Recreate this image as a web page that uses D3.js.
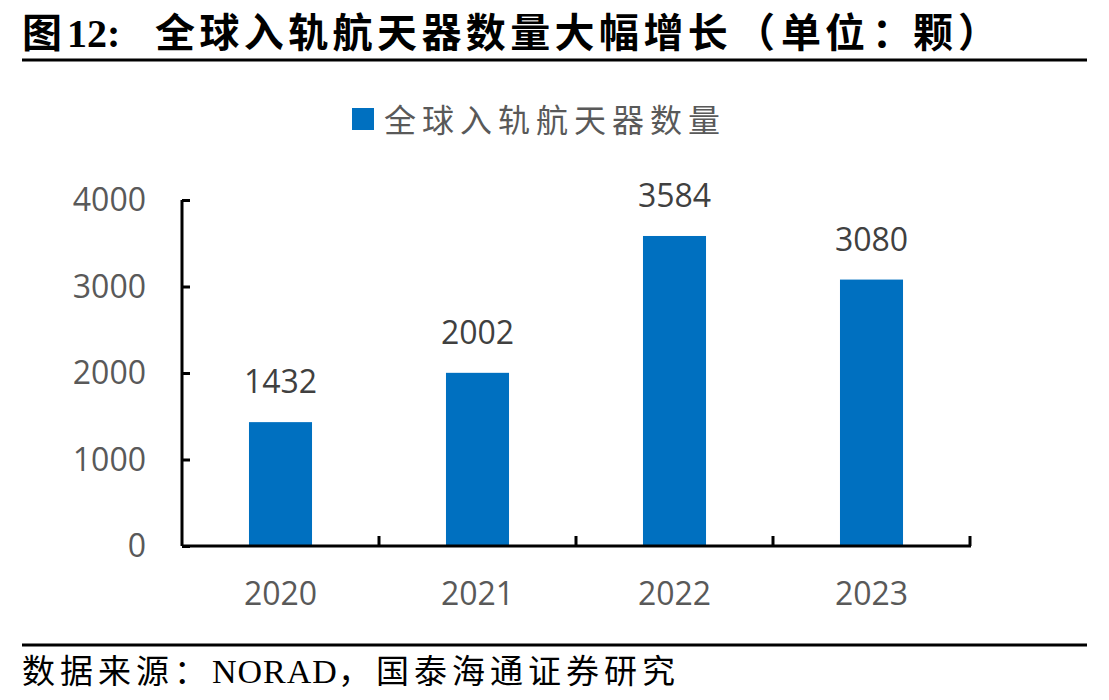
<!DOCTYPE html>
<html>
<head>
<meta charset="utf-8">
<script src="https://cdn.jsdelivr.net/npm/d3@7/dist/d3.min.js"></script>
<style>
    body{ margin:0; background:#fff; }
</style>
</head>
<body>
<div id="chart"></div>
<script>
    var years = ["2020","2021","2022","2023"]
    var counts = [1432,2002,3584,3080]
    var yTicks = [0,1000,2000,3000,4000]
    var seriesName = "全球入轨航天器数量"

    var W = 1109, H = 700
    var cjk = "'Noto Sans CJK SC','Noto Sans',sans-serif"
    var num = "'Open Sans','Noto Sans',sans-serif"
    var svg = d3.select("#chart").append("svg")
        .attr("width",W).attr("height",H)

    // title as one text with positioned pieces
    var titleParts = [
        {t:"图", x:22, f:cjk, ls:0},
        {t:"12:", x:67, f:"'Liberation Serif',serif", ls:0},
        {t:"全球入轨航天器数量大幅增长", x:155, f:cjk, ls:4.4},
        {t:"（", x:735, f:cjk, ls:0},
        {t:"单位", x:781, f:cjk, ls:4},
        {t:"：", x:872, f:cjk, ls:0},
        {t:"颗", x:913, f:cjk, ls:0},
        {t:"）", x:958, f:cjk, ls:0}
    ]
    var title = svg.append("text").attr("y",47)
        .attr("font-weight",700).attr("font-size",40).attr("fill","#000")
    title.selectAll("tspan").data(titleParts).enter().append("tspan")
        .attr("x",function(d){return d.x})
        .attr("font-family",function(d){return d.f})
        .attr("letter-spacing",function(d){return d.ls})
        .text(function(d){return d.t})

    svg.append("line").attr("x1",22).attr("x2",1087).attr("y1",60).attr("y2",60)
        .attr("stroke","#000").attr("stroke-width",3)
    svg.append("line").attr("x1",22).attr("x2",1087).attr("y1",645).attr("y2",645)
        .attr("stroke","#000").attr("stroke-width",3)

    var foot = svg.append("text").attr("x",22).attr("y",683)
        .attr("font-family",cjk).attr("font-size",33).attr("letter-spacing",5).attr("fill","#000")
    foot.append("tspan").text("数据来源：")
    foot.append("tspan").attr("font-family","'Liberation Serif',serif").attr("font-size",34)
        .attr("letter-spacing",1).text("NORAD")
    foot.append("tspan").text("，国泰海通证券研究")

    // legend
    svg.append("rect").attr("x",352).attr("y",108).attr("width",22).attr("height",22)
        .attr("fill","#0070C0")
    svg.append("text").attr("x",384).attr("y",132)
        .attr("font-family",cjk).attr("font-size",32).attr("letter-spacing",6)
        .attr("fill","#595959")
        .text(seriesName)

    // scales
    var x = d3.scaleBand().domain(years).range([182,970]).paddingInner(0.68).paddingOuter(0.34)
    var y = d3.scaleLinear().domain([0,4000]).range([546,200])

    var g = svg.append("g")

    g.selectAll(".bar").data(counts).enter().append("rect")
        .attr("x",function(d,i){return x(years[i])})
        .attr("y",function(d){return y(d)})
        .attr("width",x.bandwidth())
        .attr("height",function(d){return y(0)-y(d)})
        .attr("fill","#0070C0")

    g.selectAll(".val").data(counts).enter().append("text")
        .attr("x",function(d,i){return x(years[i])+x.bandwidth()/2})
        .attr("y",function(d){return y(d)-29})
        .attr("text-anchor","middle")
        .attr("font-family",num).attr("font-size",32)
        .attr("fill","#404040")
        .text(function(d){return d})

    // y axis
    var yAxis = g.append("g").attr("transform","translate(182,0)")
        .call(d3.axisRight(y).tickValues(yTicks).tickSize(8).tickFormat(""))
    yAxis.select(".domain").attr("stroke","#000").attr("stroke-width",3)
        .attr("d","M0,"+y(4000)+"V"+y(0))
    yAxis.selectAll(".tick line").attr("stroke","#000").attr("stroke-width",3)

    g.selectAll(".ylab").data(yTicks).enter().append("text")
        .attr("x",146).attr("y",function(d){return y(d)+11})
        .attr("text-anchor","end")
        .attr("font-family",num).attr("font-size",32)
        .attr("fill","#595959")
        .text(function(d){return d})

    // x axis, ticks between categories pointing up
    var bounds = years.map(function(d){return x(d)-x.step()*x.paddingInner()/2+x.step()})
    g.append("line").attr("x1",182).attr("x2",971).attr("y1",546).attr("y2",546)
        .attr("stroke","#000").attr("stroke-width",3)
    g.selectAll(".xtick").data(bounds).enter().append("line")
        .attr("x1",function(d){return d}).attr("x2",function(d){return d})
        .attr("y1",546).attr("y2",536)
        .attr("stroke","#000").attr("stroke-width",3)

    g.selectAll(".xlab").data(years).enter().append("text")
        .attr("x",function(d){return x(d)+x.bandwidth()/2})
        .attr("y",605)
        .attr("text-anchor","middle")
        .attr("font-family",num).attr("font-size",32)
        .attr("fill","#595959")
        .text(function(d){return d})
</script>
</body>
</html>
